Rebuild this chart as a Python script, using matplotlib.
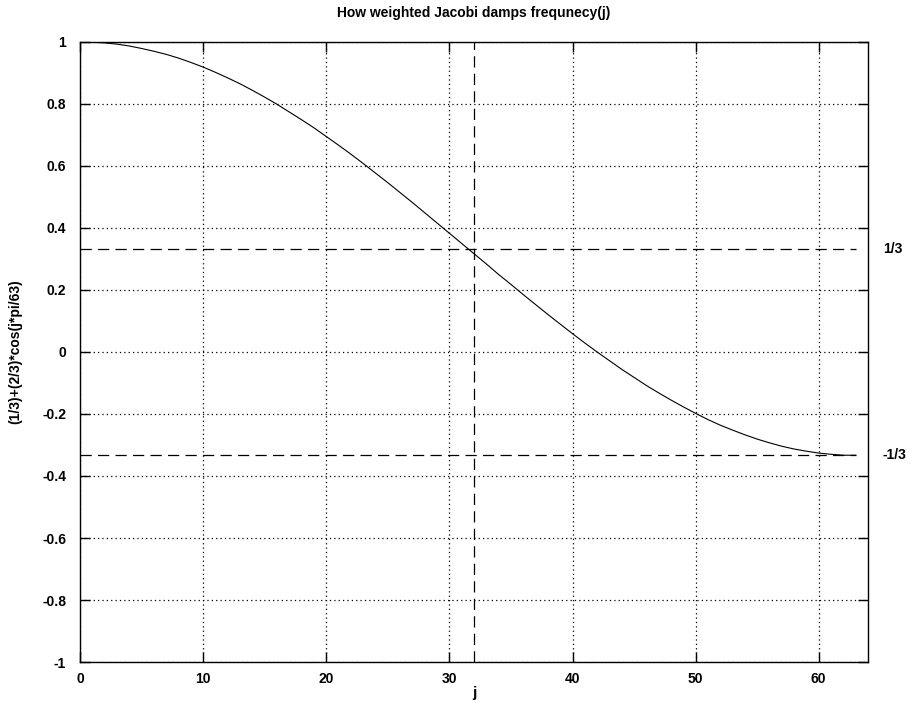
import matplotlib.pyplot as plt

# damping factor, j = 1..63
j = list(range(1, 64))
damp = [0.999, 0.997, 0.993, 0.987, 0.979, 0.970, 0.960, 0.948, 0.934, 0.919,
        0.902, 0.884, 0.865, 0.844, 0.822, 0.799, 0.774, 0.749, 0.723, 0.695,
        0.667, 0.638, 0.608, 0.577, 0.546, 0.514, 0.482, 0.449, 0.416, 0.383,
        0.350, 0.317, 0.284, 0.250, 0.218, 0.185, 0.153, 0.121, 0.090, 0.059,
        0.029, 0.000, -0.028, -0.056, -0.082, -0.108, -0.132, -0.155, -0.177, -0.198,
        -0.218, -0.236, -0.252, -0.267, -0.281, -0.293, -0.304, -0.313, -0.320, -0.326,
        -0.330, -0.333, -0.333]
levels = [1/3, -1/3]
level_labels = ['1/3', '-1/3']
j_mid = 32

plt.rcParams['font.family'] = ['Liberation Sans', 'DejaVu Sans']
plt.rcParams['font.weight'] = 'bold'
plt.rcParams['font.size'] = 10

fig = plt.figure(figsize=(9.23, 7.16), dpi=100)
ax = fig.add_axes([0.0867, 0.0754, 0.8537, 0.866])

ax.plot(j, damp, color='black', lw=0.8)
for lv, lab in zip(levels, level_labels):
    ax.plot([0, 63], [lv, lv], color='black', lw=0.9, ls=(0, (9, 5)))
    ax.text(65.2, lv, lab, ha='left', va='center', fontsize=10, fontweight='bold')
ax.plot([j_mid, j_mid], [-1, 1], color='black', lw=0.9, ls=(0, (9, 5)))

ax.set_xlim(0, 64)
ax.set_ylim(-1, 1)
ax.set_xticks(range(0, 61, 10))
ax.set_yticks([-1, -0.8, -0.6, -0.4, -0.2, 0, 0.2, 0.4, 0.6, 0.8, 1])
ax.set_yticklabels(['-1', '-0.8', '-0.6', '-0.4', '-0.2', '0', '0.2', '0.4', '0.6', '0.8', '1'])
ax.grid(True, color='black', ls=(0, (1, 2.5)), lw=0.9)
ax.tick_params(direction='in', top=True, right=True, length=7, width=1)
ax.tick_params(axis='x', pad=7)
ax.tick_params(axis='y', pad=10)
for s in ax.spines.values():
    s.set_linewidth(1)

ax.set_title('How weighted Jacobi damps frequnecy(j)', fontsize=10, fontweight='bold', pad=18)
ax.set_xlabel('j', fontsize=11, fontweight='bold', labelpad=0)
ax.set_ylabel("(1/3)+(2/3)*cos(j*pi/63)", fontsize=10, fontweight='bold', labelpad=14)

fig.savefig('out.png', dpi=100)
